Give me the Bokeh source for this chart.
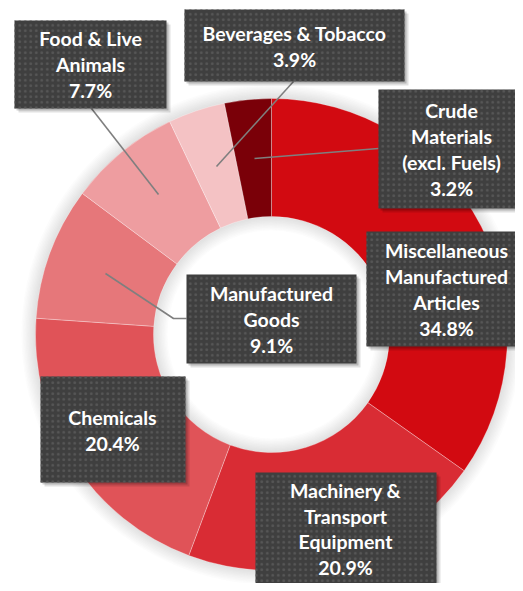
import numpy as np
from bokeh.plotting import figure
from bokeh.models import Range1d, ColumnDataSource
from bokeh.embed import file_html
from bokeh.resources import INLINE
from bokeh.core.properties import value

# ---- data ----
categories = ["Miscellaneous Manufactured Articles", "Machinery & Transport Equipment",
              "Chemicals", "Manufactured Goods", "Food & Live Animals",
              "Beverages & Tobacco", "Crude Materials (excl. Fuels)"]
shares = [34.8, 20.9, 20.4, 9.1, 7.7, 3.9, 3.2]
colors = ["#D20A11", "#D92C34", "#E05358", "#E6777A", "#EE9DA0", "#F4C2C4", "#7A0008"]
label_lines = [["Miscellaneous", "Manufactured", "Articles"],
               ["Machinery &", "Transport", "Equipment"],
               ["Chemicals"],
               ["Manufactured", "Goods"],
               ["Food & Live", "Animals"],
               ["Beverages & Tobacco"],
               ["Crude", "Materials", "(excl. Fuels)"]]

# ---- layout (reference pixel coords, figure drawn at top-left) ----
W, H = 515, 583

def Y(py):
    return H - py

CX, CY = 271, 334
R_OUT, R_IN = 236, 118
# box: left, top, right, bottom ; text centre x ; first line centre y ; line step
boxes = [(366, 231, 528, 346, 446, 250, 26),
         (255, 472, 436, 600, 345, 490, 25.5),
         (40, 376, 185, 482, 112, 417, 26),
         (186, 274, 356, 363, 271, 293, 26),
         (14, 20, 166, 108, 90, 38, 26),
         (184, 9, 404, 81, 294, 33, 26),
         (378, 89, 528, 208, 451, 110, 26)]
leaders = {3: [(105, 273), (173, 318), (186, 318)],
           4: [(91, 108), (158, 194)],
           5: [(293, 81), (216, 166)],
           6: [(378, 148), (254, 158)]}

p = figure(width=W, height=H, output_backend="svg", toolbar_location=None,
           x_range=Range1d(0, W), y_range=Range1d(0, H),
           min_border=0, background_fill_color="white", border_fill_color="white")
p.axis.visible = False
p.grid.visible = False
p.outline_line_color = None

# soft shadow around the ring
for i in range(10):
    p.annulus(x=CX, y=Y(CY), inner_radius=R_OUT - 2, outer_radius=R_OUT + (i + 1) * 1.4,
              fill_color="#808080", fill_alpha=0.028, line_color=None)
    p.annulus(x=CX, y=Y(CY), inner_radius=R_IN - (i + 1) * 1.4, outer_radius=R_IN + 2,
              fill_color="#808080", fill_alpha=0.028, line_color=None)

# donut
frac = np.array(shares) / sum(shares)
cum = np.concatenate([[0], np.cumsum(frac)])
src = ColumnDataSource(dict(
    start=np.pi / 2 - cum[:-1] * 2 * np.pi,
    end=np.pi / 2 - cum[1:] * 2 * np.pi,
    color=colors, name=categories))
p.annular_wedge(x=CX, y=Y(CY), inner_radius=R_IN, outer_radius=R_OUT,
                start_angle="start", end_angle="end", direction="clock",
                fill_color="color", line_color="white", line_width=0.6, line_alpha=0.5,
                source=src)

# leader lines
for idx, pts in leaders.items():
    p.line([q[0] for q in pts], [Y(q[1]) for q in pts], line_color="#7F7F7F", line_width=1.6)

# label boxes with shadow
for (l, t, r, b, tx, ty, st) in boxes:
    p.quad(left=l + 4, right=r + 4, top=Y(t + 4), bottom=Y(b + 4),
           fill_color="#000000", fill_alpha=0.12, line_color=None)
    p.quad(left=l + 2, right=r + 2, top=Y(t + 2), bottom=Y(b + 2),
           fill_color="#000000", fill_alpha=0.18, line_color=None)
    p.quad(left=l, right=r, top=Y(t), bottom=Y(b),
           fill_color="#3F3F3F", line_color=None,
           hatch_pattern="dot", hatch_color="#575757", hatch_scale=5.5, hatch_weight=1.0)

# label texts
xs, ys, txt = [], [], []
for i, (lines, v) in enumerate(zip(label_lines, shares)):
    tx, ty, st = boxes[i][4], boxes[i][5], boxes[i][6]
    all_lines = lines + [f"{v:.1f}%"]
    for k, s in enumerate(all_lines):
        xs.append(tx)
        ys.append(Y(ty + k * st))
        txt.append(s)
p.text(x=xs, y=ys, text=txt, text_align="center", text_baseline="middle",
       text_color="white", text_font=value("Lato"), text_font_style="bold",
       text_font_size="19.5px")

open("out.html", "w").write(file_html(p, INLINE))
